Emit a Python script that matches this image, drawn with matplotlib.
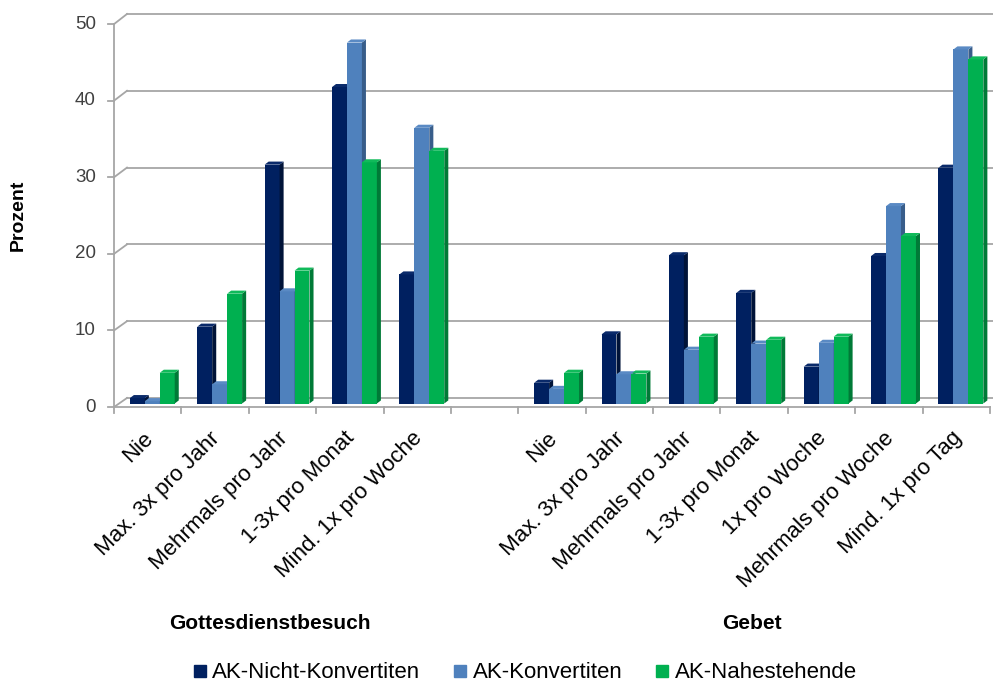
import matplotlib
matplotlib.use("Agg")
import matplotlib.pyplot as plt
from matplotlib.patches import Polygon
from matplotlib.lines import Line2D
import numpy as np

plt.rcParams["font.family"] = ["Liberation Sans", "DejaVu Sans"]

# ── data ──────────────────────────────────────────────────────────────
gottesdienst_labels = ["Nie", "Max. 3x pro Jahr", "Mehrmals pro Jahr",
                       "1-3x pro Monat", "Mind. 1x pro Woche"]
gebet_labels = ["Nie", "Max. 3x pro Jahr", "Mehrmals pro Jahr", "1-3x pro Monat",
                "1x pro Woche", "Mehrmals pro Woche", "Mind. 1x pro Tag"]

series_names = ["AK-Nicht-Konvertiten", "AK-Konvertiten", "AK-Nahestehende"]

gd_nicht = [0.7, 10.0, 31.1, 41.2, 16.8]
gd_konv = [0.3, 2.5, 14.6, 47.0, 35.9]
gd_nahe = [4.0, 14.3, 17.3, 31.4, 32.9]

gb_nicht = [2.7, 9.0, 19.3, 14.4, 4.8, 19.2, 30.7]
gb_konv = [1.9, 3.8, 7.0, 7.8, 7.9, 25.7, 46.1]
gb_nahe = [4.0, 3.9, 8.7, 8.3, 8.7, 21.8, 44.8]

y_ticks = [0, 10, 20, 30, 40, 50]
group_titles = ["Gottesdienstbesuch", "Gebet"]

# ── styling ───────────────────────────────────────────────────────────
FRONT = ["#002060", "#4F81BD", "#00B050"]
SIDE = ["#001338", "#385D8A", "#007A37"]
TOP = ["#0A2A6A", "#5A8AC4", "#10BA5A"]
GRID = "#A6A6A6"

BAR_W = 0.222      # front face width (category units)
BAR_X0 = 0.235     # offset of first bar inside a slot
SD_X = 0.06        # depth of side face (x)
SD_Y = 0.40        # depth of side face (y)
WALL_X = 0.193     # back wall offset (x)


def wall_y(v):
    return v + 0.72


def front_y(v):
    return -0.46 + v * 49.86 / 50


fig = plt.figure(figsize=(9.93, 6.86), dpi=100)
ax = fig.add_axes([114 / 993, (686 - 403.5) / 686, 876 / 993, 384 / 686])
ax.set_xlim(0, 13)
ax.set_ylim(0, 50)
ax.axis("off")

n_slots = len(gottesdienst_labels) + 1 + len(gebet_labels)

# back wall gridlines + left wall diagonals
for v in y_ticks:
    ax.plot([WALL_X, 13.3], [wall_y(v), wall_y(v)], color=GRID, lw=1.3,
            clip_on=False, zorder=1)
    ax.plot([0, WALL_X], [front_y(v), wall_y(v)], color=GRID, lw=1.3,
            clip_on=False, zorder=1)
    ax.plot([-0.09, 0], [front_y(v), front_y(v)], color=GRID, lw=1.3,
            clip_on=False, zorder=1)
    ax.text(-0.27, front_y(v), str(v), ha="right", va="center",
            fontsize=13.5, color="#404040")

# front axes
ax.plot([0, 0], [front_y(0), front_y(50)], color=GRID, lw=1.3, clip_on=False, zorder=1)
ax.plot([0, 13], [front_y(0), front_y(0)], color=GRID, lw=1.3, clip_on=False, zorder=1)
for i in range(n_slots + 1):
    ax.plot([i, i], [front_y(0), front_y(0) - 0.8], color=GRID, lw=1.3,
            clip_on=False, zorder=1)

# bars
slots = list(range(len(gottesdienst_labels))) + \
    list(range(len(gottesdienst_labels) + 1, n_slots))
values = [gd_nicht + gb_nicht, gd_konv + gb_konv, gd_nahe + gb_nahe]
labels = gottesdienst_labels + gebet_labels

z = 3
for j, slot in enumerate(slots):
    for k in range(3):
        v = values[k][j]
        x = slot + BAR_X0 + k * BAR_W
        ax.bar(x, v, width=BAR_W, align="edge", color=FRONT[k],
               linewidth=0, zorder=z)
        side = Polygon([[x + BAR_W, 0], [x + BAR_W + SD_X, SD_Y],
                        [x + BAR_W + SD_X, v + SD_Y], [x + BAR_W, v]],
                       closed=True, facecolor=SIDE[k], edgecolor="none", zorder=z)
        top = Polygon([[x, v], [x + BAR_W, v], [x + BAR_W + SD_X, v + SD_Y],
                       [x + SD_X, v + SD_Y]],
                      closed=True, facecolor=TOP[k], edgecolor="none", zorder=z)
        ax.add_patch(side)
        ax.add_patch(top)
        z += 1

# category labels
for slot, lab in zip(slots, labels):
    ax.text(slot + 0.5 + 0.03, -4.1, lab, rotation=45, rotation_mode="anchor",
            ha="right", va="center", fontsize=16, color="black")

# group titles
ax.text(2.31, -28.6, group_titles[0], ha="center", va="center",
        fontsize=15, fontweight="bold")
ax.text(9.47, -28.6, group_titles[1], ha="center", va="center",
        fontsize=15, fontweight="bold")

fig.text(18 / 993, 1 - 215 / 686, "Prozent", rotation=90, ha="center",
         va="center", fontsize=14, fontweight="bold")

handles = [Line2D([], [], marker="s", linestyle="none", markersize=8,
                  markerfacecolor=c, markeredgecolor=c) for c in FRONT]
fig.legend(handles, series_names, loc="center", bbox_to_anchor=(525 / 993, 1 - 673 / 686),
           ncol=3, frameon=False, fontsize=16, handlelength=0.6,
           handletextpad=0.25, columnspacing=1.5, borderpad=0.1)

fig.savefig("out.png", dpi=100)
